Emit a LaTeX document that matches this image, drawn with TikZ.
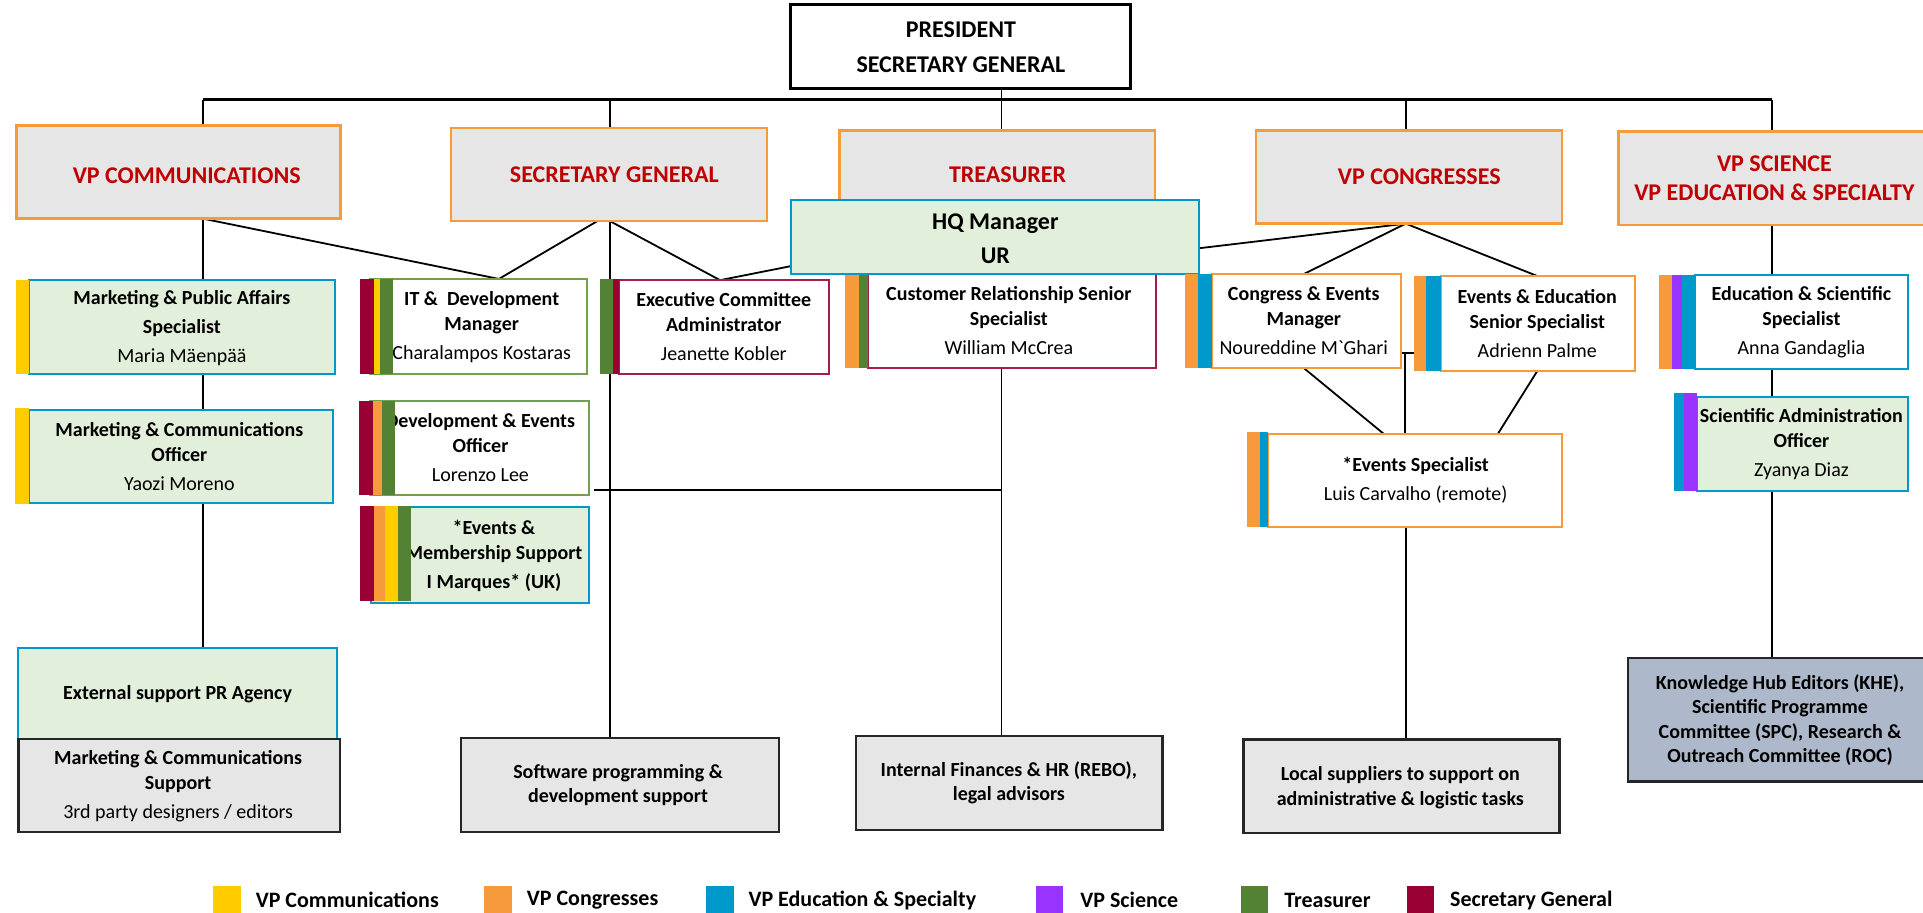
\documentclass[tikz,border=0pt]{standalone}
\usepackage{fontspec}
\setmainfont{Carlito}
\usetikzlibrary{calc,backgrounds}
\definecolor{cOrange}{HTML}{F79A3B}
\definecolor{cYellow}{HTML}{FFCC00}
\definecolor{cBlue}{HTML}{0099CC}
\definecolor{cPurple}{HTML}{9933FF}
\definecolor{cGreen}{HTML}{548235}
\definecolor{cCrimson}{HTML}{990033}
\definecolor{cRed}{HTML}{C00000}
\definecolor{cGray}{HTML}{E6E6E6}
\definecolor{cLGreen}{HTML}{E2EFDA}
\definecolor{cKH}{HTML}{ADB9CA}
\definecolor{cGreenLine}{HTML}{70A050}
\definecolor{cCrimLine}{HTML}{A51E4B}
\newcommand\orgbox[6]{\node[#1, minimum width={((#5)-(#3))*1.2288pt}, minimum height={((#6)-(#4))*1.2288pt}] (#2) at ({((#3)+(#5))/2},{((#4)+(#6))/2}) {};}
\newcommand\tagbar[5]{\fill[#1] (#2,#3) rectangle (#4,#5);}
\begin{document}
\begin{tikzpicture}[x=1.2288pt,y=-1.2288pt,
  base/.style={inner sep=0pt, outer sep=0pt, rectangle},
  presbox/.style={base, draw=black, line width=3pt, fill=white},
  vpbox/.style={base, draw=cOrange, line width=2.5pt, fill=cGray},
  gbbox/.style={base, draw=cBlue, line width=2pt, fill=cLGreen},
  wgbox/.style={base, draw=cGreenLine, line width=2pt, fill=white},
  wcbox/.style={base, draw=cCrimLine, line width=2pt, fill=white},
  wobox/.style={base, draw=cOrange, line width=2pt, fill=white},
  wbbox/.style={base, draw=cBlue, line width=2pt, fill=white},
  graybox/.style={base, draw=black!85, line width=2.5pt, fill=cGray},
  khbox/.style={base, draw=black!85, line width=2.5pt, fill=cKH},
  prestext/.style={inner sep=0pt, align=center, font=\fontsize{24}{35}\selectfont\bfseries},
  vptext/.style={inner sep=0pt, align=center, text=cRed, font=\fontsize{24}{29.5}\selectfont\bfseries},
  hqtext/.style={inner sep=0pt, align=center, font=\fontsize{24}{33.7}\selectfont\bfseries},
  stafftext/.style={inner sep=0pt, align=center, font=\fontsize{20}{25}\selectfont},
  bottext/.style={inner sep=0pt, align=center, font=\fontsize{20}{24.5}\selectfont\bfseries},
  legtext/.style={inner sep=0pt, anchor=west, font=\fontsize{22}{26}\selectfont\bfseries},
  conn/.style={line width=1.8pt, black},
  busline/.style={line width=2.6pt, black}]
\useasboundingbox (0,0) rectangle (1564.94,742.19);

% President
\orgbox{presbox}{pres}{643}{4}{920}{72}
\node[prestext] (pres-t) at (782,38.5) {PRESIDENT\\SECRETARY GENERAL};

% VP boxes
\orgbox{vpbox}{vpcomm}{13.5}{102}{277}{178}
\node[vptext] (vpcomm-t) at (152,143) {VP COMMUNICATIONS};
\orgbox{vpbox}{vpsg}{367}{104}{624}{180}
\node[vptext] (vpsg-t) at (500,142) {SECRETARY GENERAL};
\orgbox{vpbox}{vptr}{683}{106}{940}{200}
\node[vptext] (vptr-t) at (820,142) {TREASURER};
\orgbox{vpbox}{vpcong}{1022}{106}{1271}{182}
\node[vptext] (vpcong-t) at (1155,144) {VP CONGRESSES};
\orgbox{vpbox}{vpsci}{1317}{107}{1571}{183}
\node[vptext] (vpsci-t) at (1444,145) {VP SCIENCE\\VP EDUCATION \& SPECIALTY};

% VP Communications staff
\orgbox{gbbox}{mpa}{24}{228}{273}{304}
\node[stafftext] (mpa-t) at (148,267) {\textbf{Marketing \& Public Affairs}\\[4pt]\textbf{Specialist}\\[4pt]Maria Mäenpää};
\tagbar{cYellow}{13}{228}{24}{304.5}
\orgbox{gbbox}{mco}{23.5}{334}{271}{409.5}
\node[stafftext] (mco-t) at (146,371.5) {\textbf{Marketing \& Communications}\\\textbf{Officer}\\[4pt]Yaozi Moreno};
\tagbar{cYellow}{12.2}{331.7}{23.5}{410}

% Secretary general staff
\orgbox{wgbox}{it}{301}{227}{478}{304}
\node[stafftext] (it-t) at (392,266) {\textbf{IT \& \ Development}\\\textbf{Manager}\\[4pt]Charalampos Kostaras};
\tagbar{cCrimson}{293}{227}{304}{304.5}
\tagbar{cYellow}{304}{227}{309}{304.5}
\tagbar{cGreen}{309}{227}{320}{304.5}

\orgbox{wgbox}{dev}{301}{326}{479}{403}
\node[stafftext] (dev-t) at (391,364.5) {\textbf{Development \& Events}\\\textbf{Officer}\\[4pt]Lorenzo Lee};
\tagbar{cCrimson}{292}{326}{303.5}{403}
\tagbar{cOrange}{303.5}{326}{311}{403}
\tagbar{cGreen}{311}{326}{321.5}{403}

\orgbox{gbbox}{em}{302}{412.5}{479}{491}
\node[stafftext] (em-t) at (402,452) {\textbf{*Events \&}\\\textbf{Membership Support}\\[4pt]\textbf{I Marques* (UK)}};
\tagbar{cCrimson}{293}{412}{304}{489}
\tagbar{cOrange}{304}{412}{313}{489}
\tagbar{cYellow}{313}{412}{324}{489}
\tagbar{cGreen}{324}{412}{334.5}{489}

\orgbox{wcbox}{exec}{504}{228}{674.6}{304.5}
\node[stafftext] (exec-t) at (589,266) {\textbf{Executive Committee}\\\textbf{Administrator}\\[4pt]Jeanette Kobler};
\tagbar{cGreen}{488}{227}{499}{304}
\tagbar{cCrimson}{499}{227}{504}{304}

% Treasurer staff
\orgbox{wcbox}{crs}{706}{218}{941}{299.5}
\node[stafftext] (crs-t) at (821,260.6) {\textbf{Customer Relationship Senior}\\\textbf{Specialist}\\[4pt]William McCrea};
\tagbar{cOrange}{687.6}{223}{699}{299.5}
\tagbar{cGreen}{699}{223}{706}{299.5}

% HQ manager
\orgbox{gbbox}{hq}{644}{163}{976}{223}
\node[hqtext] (hq-t) at (810,194.3) {HQ Manager\\UR};

% Congresses staff
\orgbox{wobox}{ce}{986}{223}{1140}{299.5}
\node[stafftext] (ce-t) at (1061,261) {\textbf{Congress \& Events}\\\textbf{Manager}\\[4pt]Noureddine M\textasciigrave Ghari};
\tagbar{cOrange}{964}{223}{975}{299.5}
\tagbar{cBlue}{975}{223}{986}{299.5}

\orgbox{wobox}{ee}{1173}{224.6}{1330.6}{302}
\node[stafftext] (ee-t) at (1251,263) {\textbf{Events \& Education}\\\textbf{Senior Specialist}\\[4pt]Adrienn Palme};
\tagbar{cOrange}{1151}{224.6}{1160.5}{302}
\tagbar{cBlue}{1160.5}{224.6}{1173}{302}

\orgbox{wobox}{es}{1032}{353}{1271}{429}
\node[stafftext] (es-t) at (1152,391) {\textbf{*Events Specialist}\\[4pt]Luis Carvalho (remote)};
\tagbar{cOrange}{1014.6}{351.5}{1025.6}{429}
\tagbar{cBlue}{1025.6}{351.5}{1032}{429}

% Science staff
\orgbox{wbbox}{edu}{1379}{224}{1553}{300}
\node[stafftext] (edu-t) at (1466,262) {\textbf{Education \& Scientific}\\\textbf{Specialist}\\[4pt]Anna Gandaglia};
\tagbar{cOrange}{1350}{224}{1361}{300}
\tagbar{cPurple}{1361}{224}{1369}{300}
\tagbar{cBlue}{1369}{224}{1379}{300}

\orgbox{gbbox}{sao}{1381}{323}{1553}{399.5}
\node[stafftext] (sao-t) at (1466,361) {\textbf{Scientific Administration}\\\textbf{Officer}\\[4pt]Zyanya Diaz};
\tagbar{cBlue}{1362}{320}{1370.5}{399.5}
\tagbar{cPurple}{1370.5}{320}{1381}{399.5}

% Bottom boxes
\orgbox{gbbox}{prag}{15}{527}{274}{601.5}
\node[bottext] (prag-t) at (144.5,565) {External support PR Agency};
\orgbox{graybox}{mcs}{15}{601.5}{276.5}{677}
\node[stafftext] (mcs-t) at (145,640) {\textbf{Marketing \& Communications}\\\textbf{Support}\\[4pt]3rd party designers / editors};
\orgbox{graybox}{sw}{375}{600.7}{634}{677}
\node[bottext] (sw-t) at (503,639) {Software programming \&\\development support};
\orgbox{graybox}{fin}{696.7}{599}{946}{675.6}
\node[bottext] (fin-t) at (821,637) {Internal Finances \& HR (REBO),\\legal advisors};
\orgbox{graybox}{loc}{1012}{601.6}{1269}{678}
\node[bottext] (loc-t) at (1139.6,641) {Local suppliers to support on\\administrative \& logistic tasks};
\orgbox{khbox}{kh}{1325}{535.6}{1566}{636}
\node[bottext] (kh-t) at (1448.6,586) {Knowledge Hub Editors (KHE),\\Scientific Programme\\Committee (SPC), Research \&\\Outreach Committee (ROC)};

% Legend
\fill[cYellow] (173.5,721) rectangle (196,746);
\node[legtext] (leg1) at (208,732.5) {VP Communications};
\fill[cOrange] (394,721) rectangle (416.6,746);
\node[legtext] (leg2) at (428.6,732.5) {VP Congresses};
\fill[cBlue] (574.6,721) rectangle (597,746);
\node[legtext] (leg3) at (609,732.5) {VP Education \& Specialty};
\fill[cPurple] (843,721) rectangle (865,746);
\node[legtext] (leg4) at (879,732.5) {VP Science};
\fill[cGreen] (1010,721) rectangle (1032,746);
\node[legtext] (leg5) at (1045,732.5) {Treasurer};
\fill[cCrimson] (1145,721) rectangle (1167,746);
\node[legtext] (leg6) at (1180,732.5) {Secretary General};

% Connectors
\begin{scope}[on background layer]
\coordinate (d1) at (165.5,81);
\coordinate (d2) at (496.5,81);
\coordinate (d3) at (815,81);
\coordinate (d4) at (1144,81);
\coordinate (d5) at (1442,81);
\coordinate (gIT) at (406,0);
\coordinate (gSGl) at (486,0);
\coordinate (gEx) at (586,0);
\coordinate (gCE) at (1061,0);
\coordinate (gEE) at (1251,0);
\coordinate (gESl) at (1126,0);
\coordinate (gESr) at (1219,0);
\coordinate (tk) at (1143.5,287);
\coordinate (hz) at (815,399);
\draw[busline] (d1) -- (d5);
\draw[conn] (pres.south -| d3) -- (d3);
\foreach \d/\n in {d1/vpcomm, d2/vpsg, d3/vptr, d4/vpcong, d5/vpsci}
  \draw[conn] (\d) -- (\n.north -| \d);
\draw[conn] (vpcomm.south -| d1) -- (mpa.north -| d1);
\draw[conn] (mpa.south -| d1) -- (mco.north -| d1);
\draw[conn] (mco.south -| d1) -- (prag.north -| d1);
\draw[conn] (vpcomm.south -| d1) -- (it.north -| gIT);
\draw[conn] (vpsg.south -| gSGl) -- (it.north -| gIT);
\draw[conn] (vpsg.south -| d2) -- (sw.north -| d2);
\draw[conn] (vpsg.south -| d2) -- (exec.north -| gEx);
\draw[conn] ($(hq.south west)+(0,-6.5)$) -- (exec.north -| gEx);
\draw[conn] ($(hq.east)+(0,9)$) -- (vpcong.south -| d4);
\draw[conn] (vpcong.south -| d4) -- (ce.north -| gCE);
\draw[conn] (vpcong.south -| d4) -- (ee.north -| gEE);
\draw[conn] (ce.south -| gCE) -- (es.north -| gESl);
\draw[conn] (ee.south -| gEE) -- (es.north -| gESr);
\draw[conn] (ce.east |- tk) -- (ee.west |- tk);
\draw[conn] (tk) -- (es.north -| tk);
\draw[conn] (es.south -| d4) -- (loc.north -| d4);
\draw[conn] (crs.south -| d3) -- (fin.north -| d3);
\draw[conn] ($(dev.east |- hz)+(4,0)$) -- (hz);
\draw[conn] (vpsci.south -| d5) -- (edu.north -| d5);
\draw[conn] (edu.south -| d5) -- (sao.north -| d5);
\draw[conn] (sao.south -| d5) -- (kh.north -| d5);
\end{scope}
\end{tikzpicture}
\end{document}
